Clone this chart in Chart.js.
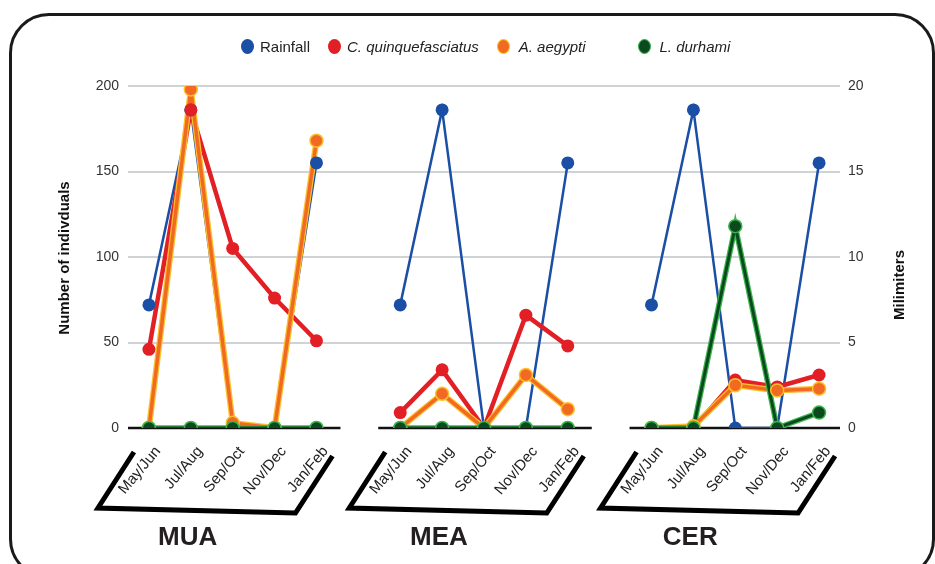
<!DOCTYPE html>
<html>
<head>
<meta charset="utf-8">
<script src="https://cdn.jsdelivr.net/npm/chart.js@4"></script>
<style>
  html, body { margin: 0; padding: 0; background: #fff; }
  body { width: 935px; height: 564px; position: relative; overflow: hidden; font-family: "Liberation Sans", Arial, sans-serif; }
  #frame { position: absolute; left: 9px; top: 13px; width: 920px; height: 560px; border: 3px solid #1a1a1a; border-radius: 40px; }
  #chartBox { position: absolute; left: 0; top: 0; width: 935px; height: 564px; }
  #legend { position: absolute; top: 38px; left: 241px; display: flex; align-items: center; font-size: 15px; color: #222; }
  .item { display: flex; align-items: center; margin-right: 18px; }
  .dot { width: 13px; height: 15px; border-radius: 50%; margin-right: 6px; box-sizing: border-box; }
  .item.italic span { font-style: italic; }
</style>
</head>
<body>
<div id="frame"></div>
<div id="chartBox"><canvas id="myChart" width="935" height="564"></canvas></div>
<div id="legend"></div>
<script>
  // Data dari gambar (per lokasi: MUA, MEA, CER)
  var months = ['May/Jun', 'Jul/Aug', 'Sep/Oct', 'Nov/Dec', 'Jan/Feb'];
  var sites = ['MUA', 'MEA', 'CER'];

  // Rainfall dalam mm (sumbu kanan)
  var rainfall = [
    [7.2, 18.6, 0, 0, 15.5],
    [7.2, 18.6, 0, 0, 15.5],
    [7.2, 18.6, 0, 0, 15.5]
  ];
  // Jumlah individu (sumbu kiri)
  var quinquefasciatus = [
    [46, 186, 105, 76, 51],
    [9, 34, 0, 66, 48],
    [0, 0, 28, 24, 31]
  ];
  var aegypti = [
    [0, 198, 3, 0, 168],
    [0, 20, 0, 31, 11],
    [0, 1, 25, 22, 23]
  ];
  var durhami = [
    [0, 0, 0, 0, 0],
    [0, 0, 0, 0, 0],
    [0, 0, 118, 0, 9]
  ];

  var leftTicks = [0, 50, 100, 150, 200];
  var rightTicks = [0, 5, 10, 15, 20];

  // gabungkan lokasi dengan satu kolom kosong di antaranya
  function joinSites(arr, gapValue) {
    var out = [];
    arr.forEach(function (part, i) {
      if (i > 0) out.push(gapValue);
      out = out.concat(part);
    });
    return out;
  }
  var labels = joinSites(sites.map(function () { return months; }), '');

  var series = [
    { name: 'Rainfall', values: rainfall, axis: 'y1', color: '#1b4ea5', glow: null, width: 2.5, italic: false },
    { name: 'C. quinquefasciatus', values: quinquefasciatus, axis: 'y', color: '#e31f26', glow: null, width: 4.5, italic: true },
    { name: 'A. aegypti', values: aegypti, axis: 'y', color: '#f26a21', glow: '#fbc02d', width: 3.5, italic: true },
    { name: 'L. durhami', values: durhami, axis: 'y', color: '#0b4a1f', glow: '#3cb54a', width: 3, italic: true }
  ];

  // garis dulu, lalu titik di atas semua garis
  var datasets = [];
  series.forEach(function (s, i) {
    var d = joinSites(s.values, null);
    var lineOrder = 20 - i;
    if (s.glow) {
      datasets.push({
        label: s.name + ' glow', data: d, yAxisID: s.axis,
        borderColor: s.glow, borderWidth: s.width + 2.5,
        pointRadius: 0, spanGaps: false, order: lineOrder + 0.5
      });
    }
    datasets.push({
      label: s.name, data: d, yAxisID: s.axis,
      borderColor: s.color, borderWidth: s.width,
      pointRadius: 0, spanGaps: false, order: lineOrder
    });
    datasets.push({
      label: s.name + ' points', data: d, yAxisID: s.axis,
      showLine: false,
      pointRadius: 6.5,
      pointBackgroundColor: s.color,
      pointBorderColor: s.glow || s.color,
      pointBorderWidth: s.glow ? 1.5 : 0,
      order: 5 - i
    });
  });

  // legenda HTML (supaya nama spesies bisa miring)
  var legendEl = document.getElementById('legend');
  series.forEach(function (s, i) {
    var item = document.createElement('div');
    item.className = 'item' + (s.italic ? ' italic' : '');
    if (i === series.length - 1) item.style.marginLeft = '34px';
    var dot = document.createElement('div');
    dot.className = 'dot';
    dot.style.background = s.color;
    if (s.glow) dot.style.border = '1.5px solid ' + s.glow;
    if (i >= 2) dot.style.marginRight = '9px';
    var txt = document.createElement('span');
    txt.textContent = s.name;
    item.appendChild(dot);
    item.appendChild(txt);
    legendEl.appendChild(item);
  });

  function groupEnds(xScale, g) {
    var first = g * (months.length + 1);
    return [xScale.getPixelForValue(first), xScale.getPixelForValue(first + months.length - 1)];
  }

  var decorPlugin = {
    id: 'decor',
    beforeDatasetsDraw: function (chart) {
      var c = chart.ctx, x = chart.scales.x, y = chart.scales.y;
      var y0 = y.getPixelForValue(0);
      c.save();
      c.strokeStyle = '#111';
      c.lineWidth = 2.5;
      sites.forEach(function (s, g) {
        var e = groupEnds(x, g);
        c.beginPath();
        c.moveTo(Math.max(e[0] - 22, chart.chartArea.left), y0);
        c.lineTo(Math.min(e[1] + 24, chart.chartArea.right), y0);
        c.stroke();
      });
      c.restore();
    },
    afterDraw: function (chart) {
      var c = chart.ctx, x = chart.scales.x, y = chart.scales.y;
      var y0 = y.getPixelForValue(0);
      c.save();
      // kurung miring di bawah label bulan
      c.strokeStyle = '#000';
      c.lineWidth = 5;
      c.lineJoin = 'miter';
      sites.forEach(function (s, g) {
        var e = groupEnds(x, g);
        c.beginPath();
        c.moveTo(e[0] - 15, y0 + 24);
        c.lineTo(e[0] - 51, y0 + 80);
        c.lineTo(e[1] - 21, y0 + 85);
        c.lineTo(e[1] + 16, y0 + 28);
        c.stroke();
        c.fillStyle = '#231f20';
        c.font = 'bold 26px "Liberation Sans", Arial, sans-serif';
        c.textAlign = 'center';
        c.textBaseline = 'alphabetic';
        c.fillText(s, (e[0] + e[1]) / 2 - 45, y0 + 117);
      });
      // judul sumbu
      c.fillStyle = '#111';
      c.font = 'bold 15px "Liberation Sans", Arial, sans-serif';
      c.textBaseline = 'middle';
      c.save();
      c.translate(65, 258);
      c.rotate(-Math.PI / 2);
      c.fillText('Number of indivduals', 0, 0);
      c.restore();
      c.save();
      c.translate(900, 285);
      c.rotate(-Math.PI / 2);
      c.fillText('Milimiters', 0, 0);
      c.restore();
      c.restore();
    }
  };

  var tickFont = { family: '"Liberation Sans", Arial, sans-serif', size: 14 };

  var options = {
    responsive: false,
    animation: false,
    layout: { padding: { top: 86, left: 0, right: 0, bottom: 0 } },
    plugins: { legend: { display: false }, tooltip: { enabled: false } },
    scales: {
      x: {
        offset: true,
        grid: { display: false },
        border: { display: false },
        ticks: { autoSkip: false, minRotation: 50, maxRotation: 50, labelOffset: 9, color: '#222', font: { family: tickFont.family, size: 15 }, padding: 7 },
        afterFit: function (scale) { scale.height = 136; }
      },
      y: {
        position: 'left',
        min: 0, max: 200,
        afterBuildTicks: function (scale) { scale.ticks = leftTicks.map(function (v) { return { value: v }; }); },
        grid: {
          color: function (ctx) { return ctx.tick && ctx.tick.value === 0 ? 'rgba(0,0,0,0)' : '#cfd3d6'; },
          lineWidth: 2,
          drawTicks: false
        },
        border: { display: false },
        ticks: { color: '#333', font: tickFont, padding: 9 },
        afterFit: function (scale) { scale.width = 128; }
      },
      y1: {
        position: 'right',
        min: 0, max: 20,
        afterBuildTicks: function (scale) { scale.ticks = rightTicks.map(function (v) { return { value: v }; }); },
        grid: { display: false, drawTicks: false },
        border: { display: false },
        ticks: { color: '#333', font: tickFont, padding: 8 },
        afterFit: function (scale) { scale.width = 95; }
      }
    }
  };

  var ctx = document.getElementById('myChart').getContext('2d');
  var myChart = new Chart(ctx, {
    type: 'line',
    data: { labels: labels, datasets: datasets },
    options: options,
    plugins: [decorPlugin]
  });
</script>
</body>
</html>
